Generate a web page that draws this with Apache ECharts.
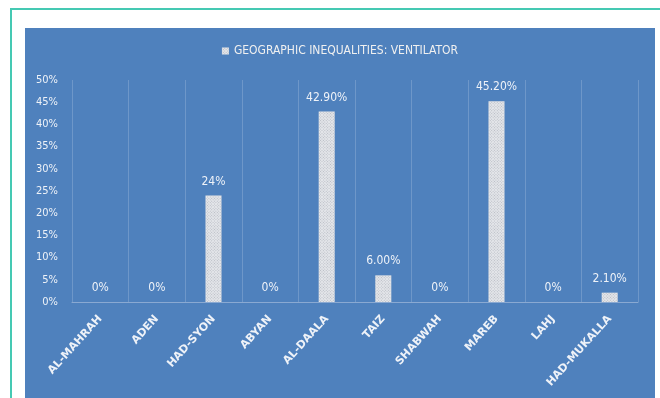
<!DOCTYPE html>
<html>
<head>
<meta charset="utf-8">
<script src="https://cdn.jsdelivr.net/npm/echarts@6/dist/echarts.min.js"></script>
<style>
    html, body { margin: 0; padding: 0; background: #ffffff; width: 660px; height: 398px; overflow: hidden; }
    #frame { position: absolute; left: 10px; top: 8px; width: 700px; height: 450px; border: 2px solid #45c9b3; box-sizing: border-box; }
    #chart { position: absolute; left: 25px; top: 28px; width: 630px; height: 370px; background: #4f81bd; }
</style>
</head>
<body>
<div id="frame"></div>
<div id="chart"></div>
<script>
    var regions = ['AL-MAHRAH', 'ADEN', 'HAD-SYON', 'ABYAN', 'AL-DAALA', 'TAIZ', 'SHABWAH', 'MAREB', 'LAHJ', 'HAD-MUKALLA'];
    var ventilator = [0, 0, 24, 0, 42.9, 6, 0, 45.2, 0, 2.1];
    var valueLabels = ['0%', '0%', '24%', '0%', '42.90%', '6.00%', '0%', '45.20%', '0%', '2.10%'];
    var seriesName = 'GEOGRAPHIC INEQUALITIES: VENTILATOR';

    var narrow = "'Liberation Sans Narrow', 'DejaVu Sans Condensed', sans-serif";

    var chart = echarts.init(document.getElementById('chart'), null, {renderer: 'canvas'});
    chart.setOption({
        backgroundColor: '#4f81bd',
        animation: false,
        legend: {
            top: 12,
            left: 'center',
            itemWidth: 7,
            itemHeight: 7,
            itemGap: 4,
            icon: 'rect',
            textStyle: {color: '#f0f0f0', fontSize: 12, fontFamily: narrow},
            data: [seriesName]
        },
        grid: {left: 47, right: 17, top: 52, bottom: 96},
        xAxis: {
            type: 'category',
            data: regions,
            axisLine: {lineStyle: {color: '#8aa9d2', width: 1}},
            axisTick: {show: false},
            splitLine: {show: true, interval: 0, lineStyle: {color: 'rgba(255,255,255,0.18)'}},
            axisLabel: {
                interval: 0,
                rotate: 48,
                margin: 15,
                color: '#eef2f8',
                fontSize: 11,
                fontWeight: 'bold',
                fontFamily: "'DejaVu Sans', sans-serif"
            }
        },
        yAxis: {
            type: 'value',
            min: 0,
            max: 50,
            interval: 5,
            axisLine: {show: false},
            axisTick: {show: false},
            splitLine: {show: false},
            axisLabel: {
                formatter: '{value}%',
                margin: 14,
                color: '#eef2f8',
                fontSize: 11,
                fontFamily: narrow
            }
        },
        series: [{
            name: seriesName,
            type: 'bar',
            data: ventilator,
            barWidth: 16,
            itemStyle: {
                color: '#e4e6ea',
                decal: {
                    symbol: 'rect',
                    symbolSize: 1,
                    dashArrayX: [1, 1],
                    dashArrayY: [1, 1],
                    rotation: Math.PI / 4,
                    color: 'rgba(150,155,165,0.55)'
                }
            },
            label: {
                show: true,
                position: 'top',
                distance: 8,
                color: '#eef2f8',
                fontSize: 12,
                fontFamily: narrow,
                formatter: function (p) { return valueLabels[p.dataIndex]; }
            }
        }]
    });
</script>
</body>
</html>
